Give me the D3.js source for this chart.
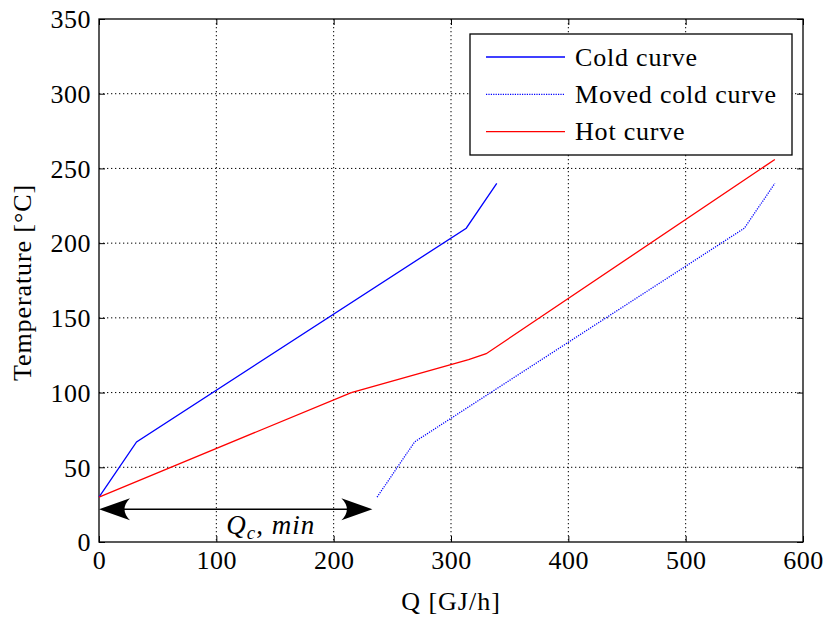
<!DOCTYPE html>
<html>
<head>
<meta charset="utf-8">
<script src="https://cdn.jsdelivr.net/npm/d3@7"></script>
<style>
  body { margin: 0; background: #fff; }
  text { font-family: "Liberation Serif", "DejaVu Serif", serif; }
</style>
</head>
<body>
<svg id="chart" width="826" height="618"></svg>
<script>
// composite curves
var coldQ = [0, 32, 313, 339];
var coldT = [30, 67, 210, 240];
var movedQ = [237, 269, 550, 576];
var movedT = [30, 67, 210, 240];
var hotQ = [0, 215, 315, 330, 576];
var hotT = [30, 100, 122, 126, 256];
var xTicks = [0, 100, 200, 300, 400, 500, 600];
var yTicks = [0, 50, 100, 150, 200, 250, 300, 350];
var seriesNames = ["Cold curve", "Moved cold curve", "Hot curve"];
var arrowQ = [0, 233];
var arrowT = 22;

var margin = {left: 99, right: 23, top: 19, bottom: 76};
var W = 826, H = 618;
var w = W - margin.left - margin.right, h = H - margin.top - margin.bottom;

var svg = d3.select('#chart');
var g = svg.append('g').attr('transform', 'translate(' + margin.left + ',' + margin.top + ')');

var x = d3.scaleLinear().domain([0, 600]).range([0, w]);
var y = d3.scaleLinear().domain([0, 350]).range([h, 0]);

// grid
g.selectAll('.gx').data(xTicks.slice(1, -1)).enter().append('line')
  .attr('x1', d => x(d)).attr('x2', d => x(d)).attr('y1', 0).attr('y2', h)
  .attr('stroke', '#000').attr('stroke-width', 1).attr('stroke-dasharray', '1.3,2.7');
g.selectAll('.gy').data(yTicks.slice(1, -1)).enter().append('line')
  .attr('y1', d => y(d)).attr('y2', d => y(d)).attr('x1', 0).attr('x2', w)
  .attr('stroke', '#000').attr('stroke-width', 1).attr('stroke-dasharray', '1.3,2.7');

// axes, ticks inward on all sides
function styleAxis(sel) {
  sel.select('.domain').remove();
  sel.selectAll('line').attr('stroke', '#000').attr('stroke-width', 1);
  sel.selectAll('text').style('font-size', '26px').style('letter-spacing', '0.5px').attr('fill', '#000');
}
g.append('g').attr('transform', 'translate(0,' + h + ')')
  .call(d3.axisBottom(x).tickValues(xTicks).tickSizeInner(-6).tickSizeOuter(0).tickPadding(9))
  .call(styleAxis);
g.append('g')
  .call(d3.axisLeft(y).tickValues(yTicks).tickSizeInner(-6).tickSizeOuter(0).tickPadding(8))
  .call(styleAxis)
  .selectAll('text').attr('dy', '0.34em');
g.append('g')
  .call(d3.axisTop(x).tickValues(xTicks).tickSizeInner(-6).tickSizeOuter(0).tickFormat(''))
  .call(styleAxis);
g.append('g').attr('transform', 'translate(' + w + ',0)')
  .call(d3.axisRight(y).tickValues(yTicks).tickSizeInner(-6).tickSizeOuter(0).tickFormat(''))
  .call(styleAxis);

g.append('rect').attr('width', w).attr('height', h)
  .attr('fill', 'none').attr('stroke', '#000').attr('stroke-width', 1.3);

// curves
var line = d3.line().x(d => x(d[0])).y(d => y(d[1]));
var curves = [
  {q: coldQ, t: coldT, color: '#0000ff', dash: null},
  {q: movedQ, t: movedT, color: '#0000ff', dash: '1.2,1.2'},
  {q: hotQ, t: hotT, color: '#ff0000', dash: null}
];
curves.forEach(function (c) {
  g.append('path')
    .datum(d3.zip(c.q, c.t))
    .attr('d', line)
    .attr('fill', 'none')
    .attr('stroke', c.color)
    .attr('stroke-width', 1.3)
    .attr('stroke-dasharray', c.dash);
});

// double arrow for Qc,min
var ay = y(arrowT), ax0 = x(arrowQ[0]), ax1 = x(arrowQ[1]);
g.append('line').attr('x1', ax0 + 10).attr('x2', ax1 - 10).attr('y1', ay).attr('y2', ay)
  .attr('stroke', '#000').attr('stroke-width', 1.5);
function head(tip, dir) {
  var L = 31, half = 11, notch = 20;
  return 'M' + tip + ',' + ay +
    'L' + (tip + dir * L) + ',' + (ay - half) +
    'Q' + (tip + dir * notch) + ',' + ay + ' ' + (tip + dir * L) + ',' + (ay + half) + 'Z';
}
g.append('path').attr('d', head(ax0, 1)).attr('fill', '!000'.replace('!', '#'));
g.append('path').attr('d', head(ax1, -1)).attr('fill', '#000');

var ql = g.append('text').attr('x', (ax0 + ax1) / 2 + 35).attr('y', ay + 25)
  .attr('text-anchor', 'middle').style('font-size', '27px').style('letter-spacing', '1px');
ql.append('tspan').text('Q').style('font-style', 'italic');
ql.append('tspan').text('c').style('font-size', '19px').style('font-style', 'italic').attr('dy', 5);
ql.append('tspan').text(', ').attr('dy', -5);
ql.append('tspan').text('min').style('font-style', 'italic');

// axis labels
svg.append('text').attr('x', margin.left + w / 2).attr('y', 610)
  .attr('text-anchor', 'middle').style('font-size', '26px').style('letter-spacing', '1px').text('Q [GJ/h]');
svg.append('text').attr('transform', 'translate(31,' + (margin.top + h / 2 + 2) + ') rotate(-90)')
  .attr('text-anchor', 'middle').style('font-size', '26px').style('letter-spacing', '0.9px')
  .text('Temperature [°C]');

// legend
var lg = svg.append('g').attr('transform', 'translate(470,34)');
lg.append('rect').attr('width', 322).attr('height', 121)
  .attr('fill', '#fff').attr('stroke', '#000').attr('stroke-width', 1.3);
seriesNames.forEach(function (name, i) {
  var ry = 23 + i * 37.3;
  lg.append('line').attr('x1', 16).attr('x2', 95).attr('y1', ry).attr('y2', ry)
    .attr('stroke', curves[i].color).attr('stroke-width', 1.3)
    .attr('stroke-dasharray', curves[i].dash);
  lg.append('text').attr('x', 105).attr('y', ry).attr('dy', '0.33em')
    .style('font-size', '26px').style('letter-spacing', '0.8px').text(name);
});
</script>
</body>
</html>
